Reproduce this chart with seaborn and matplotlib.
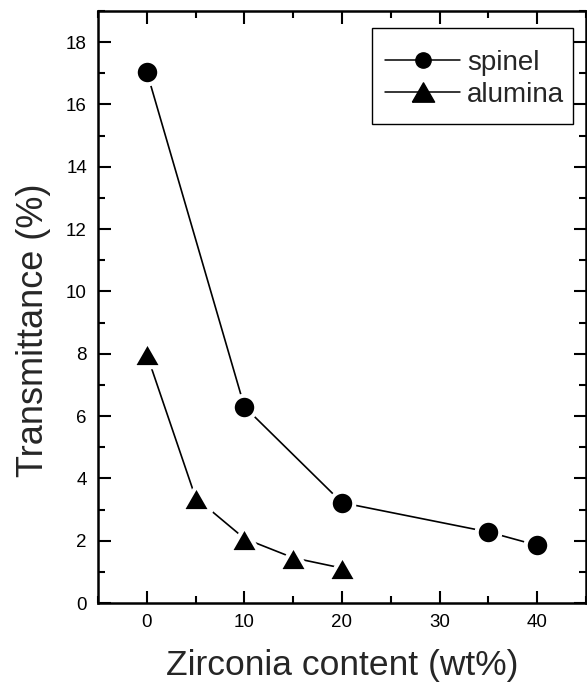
import matplotlib
matplotlib.use("Agg")
import matplotlib.pyplot as plt
import seaborn as sns
import pandas as pd
from matplotlib.ticker import MultipleLocator
from matplotlib.lines import Line2D
from matplotlib.patches import Rectangle

sns.set_theme(style="ticks")
plt.rcParams['font.family'] = ['Liberation Sans', 'DejaVu Sans']

spinel_x = [0, 10, 20, 35, 40]
spinel_y = [17.05, 6.3, 3.22, 2.28, 1.85]
alumina_x = [0, 5, 10, 15, 20]
alumina_y = [7.98, 3.38, 2.07, 1.45, 1.12]

spinel = pd.DataFrame({"x": spinel_x, "y": spinel_y})
alumina = pd.DataFrame({"x": alumina_x, "y": alumina_y})

tri = [(-1, -0.87), (1, -0.87), (0, 0.87), (-1, -0.87)]

fig = plt.figure(figsize=(5.87, 6.83), dpi=100)
ax = fig.add_axes([98/587, 1-603/683, (586-98)/587, (603-11)/683])

sns.lineplot(data=spinel, x="x", y="y", color="black", marker="o",
             linewidth=1.2, markersize=17, markeredgecolor="white",
             markeredgewidth=3, ax=ax)
sns.lineplot(data=alumina, x="x", y="y", color="black", marker=tri,
             linewidth=1.2, markersize=21, markeredgecolor="white",
             markeredgewidth=3, ax=ax)

ax.set_xlim(-5, 45)
ax.set_ylim(0, 19)
ax.xaxis.set_major_locator(MultipleLocator(10))
ax.xaxis.set_minor_locator(MultipleLocator(5))
ax.yaxis.set_major_locator(MultipleLocator(2))
ax.yaxis.set_minor_locator(MultipleLocator(1))
ax.tick_params(which="both", direction="in", top=True, right=True,
               width=1.5, colors="black", labelsize=13.5, pad=8)
ax.tick_params(which="major", length=9)
ax.tick_params(which="minor", length=5)
for s in ax.spines.values():
    s.set_linewidth(1.8)
    s.set_color("black")

ax.set_xlabel("Zirconia content (wt%)", fontsize=25.5)
ax.xaxis.set_label_coords(0.5, -0.077)
ax.set_ylabel("Transmittance (%)", fontsize=26)
ax.yaxis.set_label_coords(-0.096, 0.461)

# legend frame
W, H = 488, 592
ax.add_patch(Rectangle(((372-98)/W, (603-124)/H), (573-372)/W, (124-28)/H,
                       transform=ax.transAxes, fill=False, edgecolor="black",
                       linewidth=1.0, zorder=5))

handles = [
    Line2D([], [], color="black", marker="o", markersize=11, linewidth=1.1),
    Line2D([], [], color="black", marker=tri, markersize=16, linewidth=1.1),
]
leg = ax.legend(handles, ["spinel", "alumina"], loc="center left",
                bbox_to_anchor=((385-98)/W, (603-79)/H), fontsize=20,
                frameon=False, handlelength=2.7, borderpad=0,
                labelspacing=0.22, handletextpad=0.25, borderaxespad=0)

fig.savefig("out.png", dpi=100)
